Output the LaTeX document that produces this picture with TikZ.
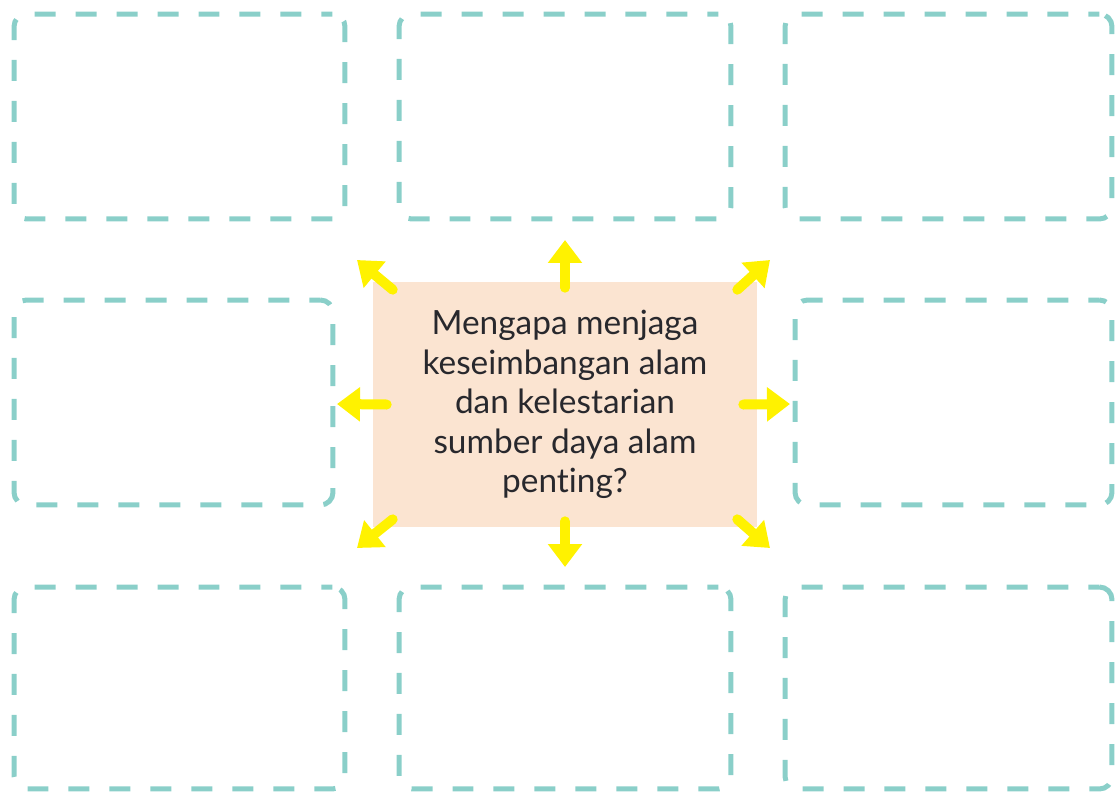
\documentclass[tikz,border=0pt]{standalone}
\usepackage{fontspec}
\setmainfont{Lato}[Ligatures=NoCommon]
\usepackage{xcolor}
\usepackage{tikz}
\usetikzlibrary{positioning, arrows.meta}

\definecolor{tealdash}{RGB}{138,207,201}
\definecolor{peach}{RGB}{251,228,209}
\definecolor{arrowyellow}{RGB}{255,242,0}
\definecolor{textdark}{RGB}{40,40,45}

\begin{document}
\begin{tikzpicture}[
  x=0.02cm, y=-0.02cm,
  answer/.style={
    draw=tealdash, rounded corners=0.25cm,
    line width=0.1cm, dash pattern=on 0.42cm off 0.4cm, dash phase=0.2cm,
    minimum height=4.1cm, inner sep=0pt
  },
  question/.style={
    fill=peach, minimum width=7.68cm, minimum height=4.9cm,
    align=center, text=textdark, inner sep=0pt,
    font=\fontsize{19}{22.5}\selectfont
  },
  pointer/.style={
    draw=arrowyellow, line width=0.2cm, line cap=round,
    -{Triangle[width=0.66cm, length=0.46cm]}
  },
]
\useasboundingbox (0,0) rectangle (1115,791);

% answer boxes
\node[answer, minimum width=6.62cm] (tl) at (179.5,116.5) {};
\node[answer, minimum width=6.64cm] (tc) at (565,116.5) {};
\node[answer, minimum width=6.54cm] (tr) at (948.5,116.5) {};
\node[answer, minimum width=6.38cm] (ml) at (173.5,402.5) {};
\node[answer, minimum width=6.34cm] (mr) at (953.5,402.5) {};
\node[answer, minimum width=6.62cm, minimum height=4.04cm] (bl) at (179.5,688) {};
\node[answer, minimum width=6.64cm, minimum height=4.04cm] (bc) at (565,688) {};
\node[answer, minimum width=6.54cm, minimum height=4.04cm] (br) at (948.5,688) {};

% question in the middle
\node[question] (q) at (565,404.5) {
  Mengapa menjaga\\
  keseimbangan alam\\
  dan kelestarian\\
  sumber daya alam\\
  penting?
};

% arrow tips
\coordinate (tipn)  at (565,240);
\coordinate (tipnw) at (357,260);
\coordinate (tipne) at (770,260);
\coordinate (tipw)  at (337,404);
\coordinate (tipe)  at (790,404);
\coordinate (tips)  at (565,567);
\coordinate (tipsw) at (357,548);
\coordinate (tipse) at (770,548);

\draw[pointer] ([shift={(0,6)}]q.north) -- (tipn);
\draw[pointer] ([shift={(20,8)}]q.north west) -- (tipnw);
\draw[pointer] ([shift={(-20,8)}]q.north east) -- (tipne);
\draw[pointer] ([shift={(14,0)}]q.west) -- (tipw);
\draw[pointer] ([shift={(-14,0)}]q.east) -- (tipe);
\draw[pointer] ([shift={(0,-6)}]q.south) -- (tips);
\draw[pointer] ([shift={(20,-8)}]q.south west) -- (tipsw);
\draw[pointer] ([shift={(-20,-8)}]q.south east) -- (tipse);

\end{tikzpicture}
\end{document}
